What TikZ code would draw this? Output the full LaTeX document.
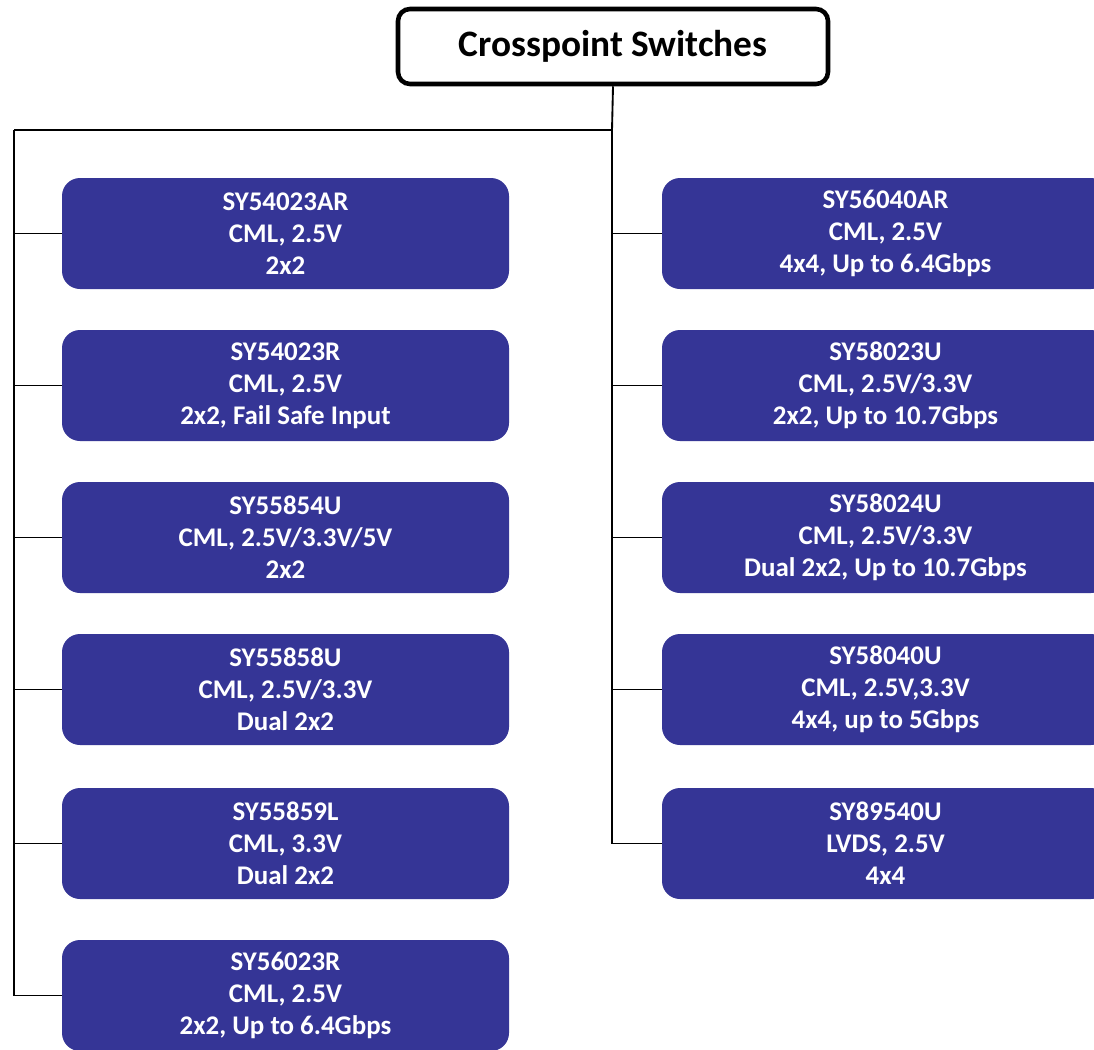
\documentclass[tikz,border=0pt]{standalone}
\usepackage{fontspec}
\setmainfont{Carlito}
\definecolor{boxblue}{RGB}{53,53,150}
\begin{document}
\begin{tikzpicture}[x=0.75pt,y=-0.75pt,
  part/.style={rectangle,rounded corners=13.5pt,fill=boxblue,text=white,
    minimum width=335.25pt,minimum height=83.25pt,align=center,inner sep=0pt,
    font=\fontsize{20.2}{24}\selectfont\bfseries},
  headbox/.style={rectangle,rounded corners=9pt,draw=black,line width=3.4pt,fill=white,
    minimum width=322.5pt,minimum height=56.25pt,inner sep=0pt,
    font=\fontsize{28}{32}\selectfont\bfseries},
  link/.style={draw=black,line width=1.4pt}]
\clip (0,0) rectangle (1094,1049);
\fill[white] (0,0) rectangle (1094,1049);
\node[headbox] (title) at (613,46.5) {Crosspoint Switches};
\coordinate (hub) at (612,130);
\coordinate (lft) at (14,130);
\node[part] (l1) at (285.5,233.5) {SY54023AR\\CML, 2.5V\\2x2};
\node[part] (l2) at (285.5,385.5) {SY54023R\\CML, 2.5V\\2x2, Fail Safe Input};
\node[part] (l3) at (285.5,537.5) {SY55854U\\CML, 2.5V/3.3V/5V\\2x2};
\node[part] (l4) at (285.5,689.5) {SY55858U\\CML, 2.5V/3.3V\\Dual 2x2};
\node[part] (l5) at (285.5,843.5) {SY55859L\\CML, 3.3V\\Dual 2x2};
\node[part] (l6) at (285.5,995.5) {SY56023R\\CML, 2.5V\\2x2, Up to 6.4Gbps};
\node[part] (r1) at (885.5,233.5) {SY56040AR\\CML, 2.5V\\4x4, Up to 6.4Gbps};
\node[part] (r2) at (885.5,385.5) {SY58023U\\CML, 2.5V/3.3V\\2x2, Up to 10.7Gbps};
\node[part] (r3) at (885.5,537.5) {SY58024U\\CML, 2.5V/3.3V\\Dual 2x2, Up to 10.7Gbps};
\node[part] (r4) at (885.5,689.5) {SY58040U\\CML, 2.5V,3.3V\\4x4, up to 5Gbps};
\node[part] (r5) at (885.5,843.5) {SY89540U\\LVDS, 2.5V\\4x4};
\begin{scope}[on background layer/.try]
\draw[link] (title.south) -- (hub) -- (lft);
\foreach \n in {l1,l2,l3,l4,l5,l6}
  \draw[link] (lft) |- (\n.west);
\foreach \n in {r1,r2,r3,r4,r5}
  \draw[link] (hub) |- (\n.west);
\end{scope}
\end{tikzpicture}
\end{document}
